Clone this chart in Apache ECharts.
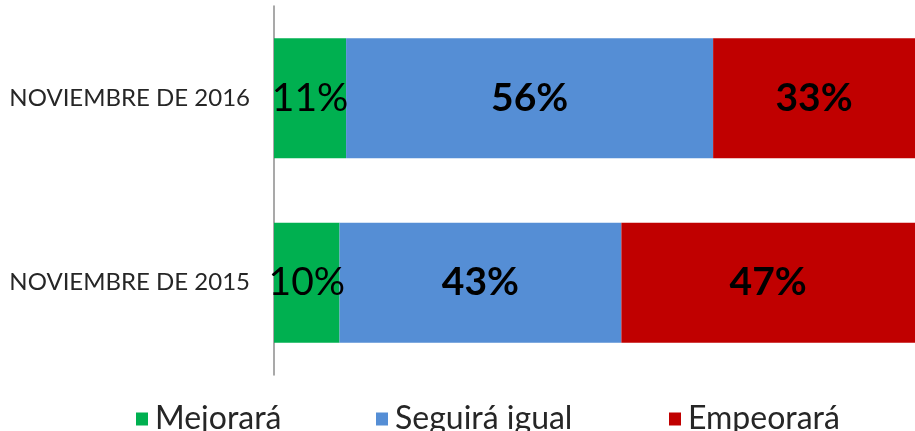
<!DOCTYPE html>
<html><head><meta charset="utf-8">
<script src="https://cdn.jsdelivr.net/npm/echarts@6/dist/echarts.min.js"></script>
<style>html,body{margin:0;padding:0;background:#fff}#c{width:915px;height:431px}</style>
</head><body><div id="c"></div>
<script>
const categories = ['NOVIEMBRE DE 2015', 'NOVIEMBRE DE 2016'];
const seriesNames = ['Mejorará', 'Seguirá igual', 'Empeorará'];
const mejorara = [10, 11];
const seguiraIgual = [43, 56];
const empeorara = [47, 33];
const colors = ['#00B050', '#558ED5', '#C00000'];
const FONT = 'Lato, "DejaVu Sans", sans-serif';

const chart = echarts.init(document.getElementById('c'));
function mk(name, data, color, bold) {
  return {
    name, type: 'bar', stack: 'total', data, barWidth: '65%',
    itemStyle: { color },
    label: { show: true, position: 'inside', formatter: '{c}%', color: '#000',
      fontSize: 39, fontWeight: bold ? 'bold' : 'normal', fontFamily: FONT }
  };
}
function leg(name, left) {
  return { data: [name], left, bottom: -9, itemWidth: 12, itemHeight: 13, itemGap: 0,
    icon: 'rect', textStyle: { fontSize: 32, color: '#262626', fontFamily: FONT, padding: [0, 0, 0, 2] } };
}
chart.setOption({
  animation: false,
  grid: { left: 274, right: 0, top: 6, bottom: 56, containLabel: false },
  // the original plot extends past the right edge of the picture; the visible part ends near 97.8%
  xAxis: { type: 'value', min: 0, max: 97.8, show: false },
  yAxis: { type: 'category', data: categories,
    axisLine: { show: true, lineStyle: { color: '#8c8c8c', width: 1.5 } },
    axisTick: { show: false },
    axisLabel: { fontSize: 24, color: '#262626', fontFamily: FONT, margin: 24 } },
  legend: [leg(seriesNames[0], 131), leg(seriesNames[1], 371), leg(seriesNames[2], 664)],
  series: [
    mk(seriesNames[0], mejorara, colors[0], false),
    mk(seriesNames[1], seguiraIgual, colors[1], true),
    mk(seriesNames[2], empeorara, colors[2], true)
  ]
});
</script></body></html>
